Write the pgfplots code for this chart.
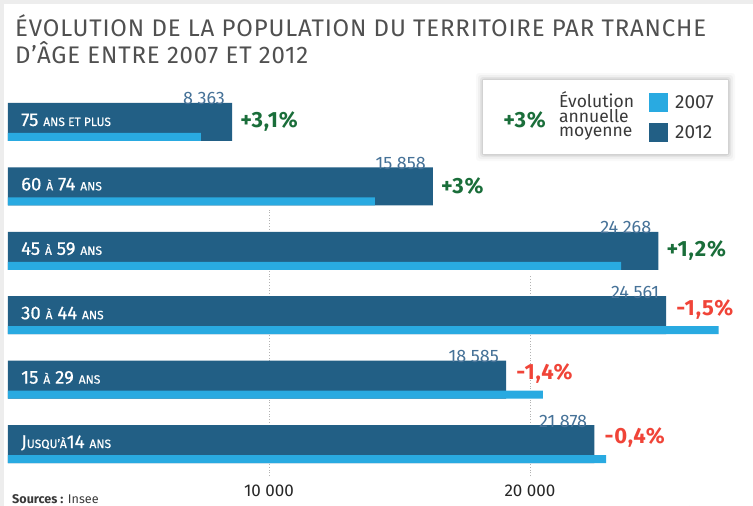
\documentclass[border=0pt]{standalone}
\usepackage{pgfplots}
\pgfplotsset{compat=1.18}
\usepackage{fontspec}
\setmainfont{Fira Sans}
\newfontfamily\catfont{Fira Sans}[FakeBold=0.6]
\newfontfamily\titlefont{Fira Sans}[LetterSpace=3.5]
\newfontfamily\pctfont{Fira Sans}[LetterSpace=4]
\definecolor{darkbar}{HTML}{225F85}
\definecolor{lightbar}{HTML}{29AAE1}
\definecolor{valcol}{HTML}{467298}
\definecolor{pgreen}{HTML}{1A6E3A}
\definecolor{pred}{HTML}{F04438}
\definecolor{titlegray}{HTML}{505050}
\definecolor{textgray}{HTML}{3A3A3A}
\newcommand\sm[1]{{\fontsize{12}{12}\selectfont #1}}

\pgfplotstableread{
y   v2012
5   8363
4   15858
3   24268
2   24561
1   18585
0   21878
}\tabtwelve

\pgfplotstableread{
y       v2007
4.7671  7200
3.7671  13690
2.7671  22880
1.7671  26520
0.7671  19960
-0.2329 22320
}\tabseven

\begin{document}
\begin{tikzpicture}
\useasboundingbox (0pt,0pt) rectangle (753pt,-506pt);
\fill[gray!14] (0pt,0pt) rectangle (753pt,-506pt);
\fill[white] (4pt,-4pt) rectangle (753pt,-506pt);

% title
\node[anchor=base west, inner sep=0pt, text=titlegray, font=\titlefont\fontsize{24}{28}\selectfont] at (15pt,-36pt) {ÉVOLUTION DE LA POPULATION DU TERRITOIRE PAR TRANCHE};
\node[anchor=base west, inner sep=0pt, text=titlegray, font=\titlefont\fontsize{24}{28}\selectfont] at (15pt,-63pt) {D’ÂGE ENTRE 2007 ET 2012};

\begin{axis}[
  at={(8pt,-480pt)}, anchor=south west,
  scale only axis, width=745pt, height=400pt,
  xmin=0, xmax=27799, ymin=-0.559, ymax=5.652,
  axis line style={draw=none},
  ytick=\empty,
  xtick={9739,19478}, xticklabels={10 000,20 000},
  major tick length=0pt,
  xticklabel style={anchor=north, inner sep=0pt, yshift=-5pt, text=black!85, font=\fontsize{17}{17}\selectfont},
  clip=false,
]
% dotted gridlines
\addplot[gray!60, dotted, line width=0.8pt] coordinates {(9739,-0.497) (9739,3.634)};
\addplot[gray!60, dotted, line width=0.8pt] coordinates {(19478,-0.497) (19478,2.609)};

% value labels (drawn before bars so the bar hides their feet)
\addplot[draw=none, mark=none,
  point meta=x,
  nodes near coords={\pgfmathprintnumber[fixed, precision=0, assume math mode=true, 1000 sep={\hspace{0.25em}}]{\pgfplotspointmeta}},
  every node near coord/.append style={anchor=base east, inner sep=0pt, xshift=-7pt, yshift=17pt, text=valcol, font=\fontsize{18}{18}\selectfont},
] table[x=v2012, y=y] {\tabtwelve};

% bars
\addplot[xbar, bar width=38pt, bar shift=0pt, fill=darkbar, draw=none] table[x=v2012, y=y] {\tabtwelve};
\addplot[xbar, bar width=8pt, bar shift=0pt, fill=lightbar, draw=none] table[x=v2007, y=y] {\tabseven};

% growth labels
\addplot[draw=none, mark=none, point meta=explicit symbolic, nodes near coords,
  every node near coord/.append style={anchor=west, inner sep=0pt, xshift=8pt, text=pgreen, font=\pctfont\bfseries\fontsize{22}{22}\selectfont},
] coordinates {(8363,5) [+3,1\%] (15858,4) [+3\%] (24268,3) [+1,2\%]};
\addplot[draw=none, mark=none, point meta=explicit symbolic, nodes near coords,
  every node near coord/.append style={anchor=west, inner sep=0pt, xshift=10pt, yshift=6pt, text=pred, font=\pctfont\bfseries\fontsize{22}{22}\selectfont},
] coordinates {(24561,2) [-1,5\%] (18585,1) [-1,4\%] (21878,0) [-0,4\%]};

% category labels inside bars
\addplot[draw=none, mark=none, point meta=explicit symbolic, nodes near coords,
  every node near coord/.append style={anchor=base west, inner sep=0pt, xshift=13pt, yshift=-4pt, text=white, font=\catfont\fontsize{18.5}{18.5}\selectfont},
] coordinates {
  (0,5) [{75 \sm{ANS ET PLUS}}]
  (0,4) [{60 \sm{À} 74 \sm{ANS}}]
  (0,3) [{45 \sm{À} 59 \sm{ANS}}]
  (0,2) [{30 \sm{À} 44 \sm{ANS}}]
  (0,1) [{15 \sm{À} 29 \sm{ANS}}]
  (0,0) [{J\sm{USQU’À}14 \sm{ANS}}]
};
\end{axis}

% legend box
\foreach \d/\o in {7/0.025,5/0.035,3/0.05,1.5/0.07}{
  \fill[black, opacity=\o, rounded corners=3pt] (483pt-\d pt,-80pt+\d pt) rectangle (728pt+\d pt,-154pt-\d pt);
}
\fill[white] (483pt,-80pt) rectangle (728pt,-154pt);
\node[anchor=east, inner sep=0pt, text=pgreen, font=\pctfont\bfseries\fontsize{22}{22}\selectfont] at (546pt,-120pt) {+3\%};
\node[anchor=north west, inner sep=0pt, align=left, text=textgray, font=\fontsize{17.5}{14.5}\selectfont] at (559pt,-91.5pt) {Évolution\\annuelle\\moyenne};
\fill[lightbar] (649pt,-93pt) rectangle (668pt,-112pt);
\fill[darkbar] (649pt,-123pt) rectangle (668pt,-142pt);
\node[anchor=west, inner sep=0pt, text=textgray, font=\fontsize{19}{19}\selectfont] at (675pt,-102.5pt) {2007};
\node[anchor=west, inner sep=0pt, text=textgray, font=\fontsize{19}{19}\selectfont] at (675pt,-132.5pt) {2012};

% source
\node[anchor=base west, inner sep=0pt, text=textgray, font=\fontsize{12.6}{12.6}\selectfont] at (12pt,-503pt) {\textbf{Sources :} Insee};
\end{tikzpicture}
\end{document}
